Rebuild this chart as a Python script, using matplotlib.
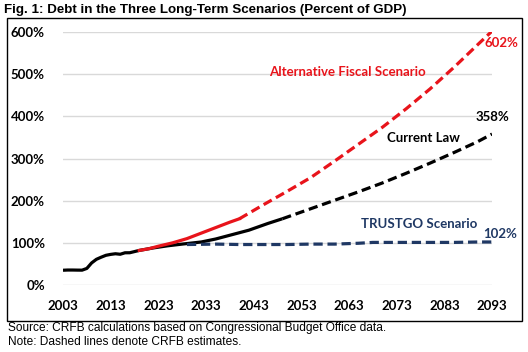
import matplotlib
matplotlib.use("Agg")
import matplotlib.pyplot as plt
from matplotlib.patches import Rectangle

# Current law, history + CBO projection (solid)
law_years = [2003, 2004, 2005, 2006, 2007, 2008, 2009, 2010, 2011, 2012, 2013, 2014,
             2015, 2016, 2017, 2019, 2022, 2025, 2028, 2032, 2035, 2038, 2042, 2046, 2049]
law_debt = [35, 35.5, 35.5, 35.3, 35.2, 39.3, 52.3, 60.9, 65.9, 70.4, 72.6, 74.1,
            72.9, 76.4, 76.5, 82, 88, 93, 97, 102, 109, 118, 130, 146, 157]
# Current law, CRFB extension (dashed)
law_ext_years = [2049, 2055, 2060, 2065, 2070, 2075, 2080, 2085, 2090, 2093]
law_ext_debt = [157, 181, 201, 221, 242, 265, 289, 314, 340, 358]

# Alternative fiscal scenario
afs_years = [2019, 2021, 2023, 2026, 2029, 2032, 2035, 2038, 2040]
afs_debt = [82, 86, 92, 100, 110, 123, 136, 149, 157]
afs_ext_years = [2040, 2045, 2050, 2055, 2060, 2065, 2070, 2075, 2080, 2085, 2090, 2093]
afs_ext_debt = [157, 190, 222, 255, 294, 334, 374, 418, 465, 516, 570, 602]

# TRUSTGO scenario
tg_years = [2029, 2035, 2040, 2045, 2050, 2055, 2060, 2065, 2068, 2075, 2080, 2085, 2090, 2093]
tg_debt = [96, 97, 96, 96, 96, 97, 97, 99, 101, 101, 101, 101, 102, 102]

xticks = list(range(2003, 2094, 10))
yticks = [0, 100, 200, 300, 400, 500, 600]

RED = "#E8141B"
NAVY = "#1F3864"
W, H = 528, 352

fig = plt.figure(figsize=(W / 100, H / 100), dpi=100)
ax = fig.add_axes([63 / W, (H - 285) / H, (492 - 63) / W, (285 - 32) / H])

lw = 2.3
dash = (0, (2.9, 1.5))
ax.plot(law_years, law_debt, color="black", lw=lw, solid_capstyle="butt")
ax.plot(law_ext_years, law_ext_debt, color="black", lw=lw, linestyle=dash)
ax.plot(afs_years, afs_debt, color=RED, lw=lw)
ax.plot(afs_ext_years, afs_ext_debt, color=RED, lw=lw, linestyle=dash)
ax.plot(tg_years, tg_debt, color=NAVY, lw=lw, linestyle=dash)

ax.set_xlim(2003, 2093)
ax.set_ylim(0, 600)
ax.set_xticks(xticks)
ax.set_yticks(yticks)
ax.set_yticklabels([f"{v}%" for v in yticks])
ax.grid(axis="y", color="#D9D9D9", lw=1)
ax.set_axisbelow(True)
for s in ax.spines.values():
    s.set_visible(False)
ax.tick_params(length=0)
ax.tick_params(axis="x", pad=11)
ax.tick_params(axis="y", pad=13)
for lab in ax.get_xticklabels() + ax.get_yticklabels():
    lab.set_fontfamily("Lato")
    lab.set_fontweight("bold")
    lab.set_fontsize(9.5)

ann = dict(fontfamily="Lato", fontweight="bold", fontsize=9.5, ha="center", va="center")
ax.text(2062.6, 505, "Alternative Fiscal Scenario", color=RED, **ann)
ax.text(2095, 574, "602%", color=RED, **ann)
ax.text(2078.7, 348, "Current Law", color="black", **ann)
ax.text(2093.2, 398, "358%", color="black", **ann)
ax.text(2077.7, 145, "TRUSTGO Scenario", color=NAVY, **ann)
ax.text(2094.7, 121, "102%", color=NAVY, **ann)

fig.patches.append(Rectangle((7 / W, (H - 321) / H), (522 - 7) / W, (321 - 18) / H,
                             transform=fig.transFigure, fill=False, edgecolor="black", lw=1))

fig.text(4 / W, 1 - 10 / H, "Fig. 1: Debt in the Three Long-Term Scenarios (Percent of GDP)",
         fontfamily="Liberation Sans", fontweight="bold", fontsize=9.6, va="center", ha="left")
fig.text(8 / W, 1 - 328 / H, "Source: CRFB calculations based on Congressional Budget Office data.",
         fontfamily="Liberation Sans", fontsize=8.6, va="center", ha="left")
fig.text(8 / W, 1 - 342 / H, "Note: Dashed lines denote CRFB estimates.",
         fontfamily="Liberation Sans", fontsize=8.6, va="center", ha="left")

fig.savefig("out.png", dpi=100)
